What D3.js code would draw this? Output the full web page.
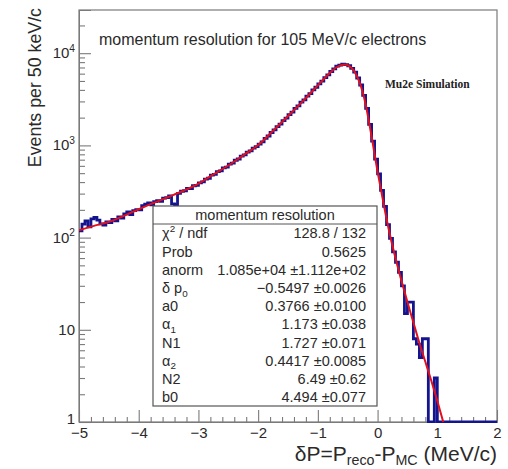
<!DOCTYPE html>
<html><head><meta charset="utf-8">
<script src="https://cdn.jsdelivr.net/npm/d3@7"></script>
<style>body{margin:0;background:#fff}</style>
</head><body>
<svg id="c" width="508" height="469"></svg>
<script>
// ---- data ----
const binStart = -5.0;
const binWidth = 0.05;
const counts = [
  118,140,152,131,160,166,155,141,137,148,
  145,158,152,168,163,181,190,178,196,201,
  200,222,231,238,226,245,252,247,268,271,
  284,232,226,301,318,322,342,340,365,368,
  393,402,431,440,475,484,520,530,570,582,
  625,641,690,712,765,790,845,872,935,968,
  1030,1090,1190,1265,1380,1470,1600,1705,1860,1975,
  2160,2300,2520,2680,2940,3120,3420,3650,4010,4270,
  4650,4980,5430,5820,6330,6770,7230,7420,7620,7530,
  7310,6830,6220,5380,4520,3480,2520,1690,1110,710,
  490,325,218,138,98,70,54,42,30,15,
  20,20,8,7,5,8,8,0,0,3,
  0,0,0,0,0,0,0,0,0,0,
  0,0,0,0,0,0,0,0,0,0
];
const fitX = [-5.0,-4.75,-4.5,-4.25,-4.0,-3.75,-3.5,-3.25,-3.0,-2.75,-2.5,-2.25,-2.0,-1.75,-1.5,-1.25,-1.0,-0.9,-0.8,-0.7,-0.6,-0.55,-0.5,-0.45,-0.4,-0.35,-0.3,-0.25,-0.2,-0.15,-0.1,-0.05,0.0,0.05,0.1,0.15,0.2,0.3,0.4,0.5,0.6,0.7,0.8,0.9,1.0,1.1];
const fitY = [120,134,148,172,203,238,276,322,385,484,605,780,1010,1440,2080,3020,4480,5250,6100,6950,7450,7550,7400,7050,6500,5700,4800,3800,2800,1900,1250,800,520,350,235,160,112,60,34,20,12,7.2,4.5,2.8,1.7,1.0];
const xTickValues = [-5,-4,-3,-2,-1,0,1,2];
const yTickValues = [1,10,100,1000,10000];
const yTickLabels = ["1","10","10^{2}","10^{3}","10^{4}"];
const titleText = "momentum resolution for 105 MeV/c electrons";
const tagText = "Mu2e Simulation";
const yTitle = "Events per 50 keV/c";
const xTitle = "δP=P_{reco}-P_{MC} (MeV/c)";
const statHeader = "momentum resolution";
const statNames = ["χ^{2} / ndf","Prob","anorm","δ p_{0}","a0","α_{1}","N1","α_{2}","N2","b0"];
const statValues = ["128.8 / 132","0.5625","1.085e+04 ±1.112e+02","−0.5497 ±0.0026","0.3766 ±0.0100","1.173 ±0.038","1.727 ±0.071","0.4417 ±0.0085","6.49 ±0.62","4.494 ±0.077"];

// ---- layout ----
const L = 79, R = 497, T = 10, B = 422;
const font = "'Liberation Sans', Arial, Helvetica, sans-serif";
const axisCol = "#7a7a7a", textCol = "#2a2a2a";
const svg = d3.select("#c");
const x = d3.scaleLinear().domain([-5, 2]).range([L, R]);
const y = d3.scaleLog().domain([1, Math.pow(10, 4.4685)]).range([B, T]);

// text with ^{..} / _{..}; base = extra downward shift of the whole line
function rich(sel, str, size, base, subShift) {
  const parts = []; const re = /([_^])\{([^}]*)\}/g; let last = 0, m;
  while ((m = re.exec(str))) {
    if (m.index > last) parts.push({t: str.slice(last, m.index), k: ""});
    parts.push({t: m[2], k: m[1]}); last = re.lastIndex;
  }
  if (last < str.length) parts.push({t: str.slice(last), k: ""});
  let cur = -(base || 0);
  const sub = subShift == null ? 0.26 : subShift;
  parts.forEach(p => {
    const target = p.k === "^" ? -0.42 * size : p.k === "_" ? sub * size : 0;
    const ts = sel.append("tspan").attr("dy", (target - cur).toFixed(2)).text(p.t);
    if (p.k) ts.attr("font-size", size * 0.68);
    cur = target;
  });
}

// clip
svg.append("clipPath").attr("id", "pc").append("rect")
  .attr("x", L).attr("y", T - 1).attr("width", R - L).attr("height", B - T + 2);

// frame
svg.append("rect").attr("x", L).attr("y", T).attr("width", R - L).attr("height", B - T)
  .attr("fill", "none").attr("stroke", axisCol).attr("stroke-width", 1.2);

// y axis major/minor ticks
const yMinor = [];
for (let k = 0; k < 5; k++) for (let d = 2; d <= 9; d++) { const v = d * Math.pow(10, k); if (v < y.domain()[1]) yMinor.push(v); }
const gy = svg.append("g").attr("transform", `translate(${L},0)`);
gy.call(d3.axisLeft(y).tickValues(yTickValues).tickSize(-12).tickFormat(""));
gy.append("g").call(d3.axisLeft(y).tickValues(yMinor).tickSize(-6).tickFormat(""));
gy.selectAll("path.domain").attr("stroke", axisCol);
gy.selectAll("line").attr("stroke", axisCol).attr("stroke-width", 1.1);
// y labels
yTickValues.forEach((v, i) => {
  const t = svg.append("text").attr("x", L - 4).attr("y", y(v) - (v === 1 ? 3 : 0))
    .attr("text-anchor", "end").attr("font-family", font).attr("font-size", 15).attr("fill", textCol);
  rich(t, yTickLabels[i], 15, 0.33 * 15);
});

// x axis
const xMinor = d3.range(-50, 21, 2).map(d => d / 10).filter(v => !xTickValues.includes(v));
const gx = svg.append("g").attr("transform", `translate(0,${B})`);
gx.call(d3.axisBottom(x).tickValues(xTickValues).tickSize(-12).tickPadding(5)
  .tickFormat(d => d < 0 ? "−" + Math.abs(d) : String(d)));
gx.append("g").call(d3.axisBottom(x).tickValues(xMinor).tickSize(-5).tickFormat(""));
gx.selectAll("path.domain").attr("stroke", axisCol);
gx.selectAll("line").attr("stroke", axisCol).attr("stroke-width", 1.1);
gx.selectAll("text").attr("font-family", font).attr("font-size", 15).attr("fill", textCol);

// histogram
const pts = counts.map((c, i) => [binStart + i * binWidth, c]);
pts.push([binStart + counts.length * binWidth, counts[counts.length - 1]]);
const histLine = d3.line().x(d => x(d[0])).y(d => y(Math.max(d[1], 1))).curve(d3.curveStepAfter);
svg.append("path").attr("clip-path", "url(#pc)").attr("d", histLine(pts))
  .attr("fill", "none").attr("stroke", "#14148f").attr("stroke-width", 2.8);

// fit
const fitPts = fitX.map((v, i) => [v, fitY[i]]);
const fitLine = d3.line().x(d => x(d[0])).y(d => y(d[1])).curve(d3.curveMonotoneX);
svg.append("path").attr("clip-path", "url(#pc)").attr("d", fitLine(fitPts))
  .attr("fill", "none").attr("stroke", "#e3101c").attr("stroke-width", 2);

// title and tag
svg.append("text").attr("x", 99).attr("y", 45).attr("font-family", font).attr("font-size", 16)
  .attr("fill", textCol).text(titleText);
svg.append("text").attr("x", 385).attr("y", 88).attr("font-family", "'Liberation Serif', 'Times New Roman', serif")
  .attr("font-weight", "bold").attr("font-size", 11.5).attr("fill", "#222").text(tagText);

// axis titles
svg.append("text").attr("transform", "translate(41,8) rotate(-90)").attr("text-anchor", "end")
  .attr("font-family", font).attr("font-size", 17.8).attr("fill", textCol).text(yTitle);
const xt = svg.append("text").attr("x", R).attr("y", 461).attr("text-anchor", "end")
  .attr("font-family", font).attr("font-size", 21).attr("fill", textCol);
rich(xt, xTitle, 21, 0, 0.19);

// stats box
const sb = {x: 153, y: 206, w: 224, h: 200, head: 18};
const gs = svg.append("g");
gs.append("rect").attr("x", sb.x).attr("y", sb.y).attr("width", sb.w).attr("height", sb.h)
  .attr("fill", "#fff").attr("stroke", "#555").attr("stroke-width", 1.2);
gs.append("line").attr("x1", sb.x).attr("x2", sb.x + sb.w).attr("y1", sb.y + sb.head).attr("y2", sb.y + sb.head)
  .attr("stroke", "#555").attr("stroke-width", 1);
gs.append("text").attr("x", sb.x + sb.w / 2).attr("y", sb.y + 9).attr("dy", "0.36em").attr("text-anchor", "middle")
  .attr("font-family", font).attr("font-size", 14.5).attr("fill", textCol).text(statHeader);
const rowH = (sb.h - sb.head) / statNames.length;
statNames.forEach((n, i) => {
  const cy = sb.y + sb.head + rowH * (i + 0.5);
  const t = gs.append("text").attr("x", sb.x + 9).attr("y", cy)
    .attr("font-family", font).attr("font-size", 14.5).attr("fill", textCol);
  rich(t, n, 14.5, 0.36 * 14.5);
  gs.append("text").attr("x", sb.x + sb.w - 11).attr("y", cy).attr("dy", "0.36em").attr("text-anchor", "end")
    .attr("font-family", font).attr("font-size", 14.5).attr("fill", textCol).text(statValues[i]);
});
</script>
</body></html>
